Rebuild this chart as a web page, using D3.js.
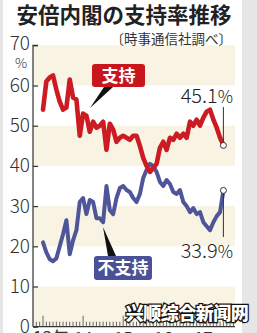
<!DOCTYPE html>
<html>
<head>
<meta charset="utf-8">
<script src="https://cdn.jsdelivr.net/npm/d3@7"></script>
<style>
  body { margin: 0; background: #fff; }
  svg { display: block; }
  text { font-family: "Noto Sans CJK JP", "Noto Sans", sans-serif; }
</style>
</head>
<body>
<svg id="chart" width="257" height="333"></svg>
<script>
// monthly polls, Jan 2013 .. Jun 2017
const support = [54, 61, 62, 62.5, 59, 56, 54, 54.5, 61.5, 57, 56.5, 47.5,
  53, 52.5, 48.5, 51, 49.5, 50, 51, 44, 50.5, 49, 46, 47,
  47.5, 47, 46.5, 47.5, 47.5, 45, 42, 40, 38.5, 39.5, 40.5, 44.5,
  46, 44, 47, 46.5, 48, 47, 48, 47, 51, 50, 51.5, 50,
  52, 53.5, 54, 51.5, 49.5, 47, 45.1];
const against = [21, 18.5, 16.8, 16.3, 17, 20, 23, 26.5, 18, 21.5, 24, 31,
  32, 28, 31.5, 31, 27, 27, 26, 35, 29, 28, 32, 34.5,
  35, 34, 33.5, 32, 31, 33, 37, 39, 40.5, 40, 38.5, 36,
  35, 36.5, 35.5, 33.5, 33, 34, 31, 30, 28.5, 29.5, 28, 28.5,
  26, 25, 24, 26, 27.5, 28.5, 33.9];
const yTicks = [0, 10, 20, 30, 40, 50, 60, 70];
const yearLabels = ["13年", "14", "15", "16", "17"];

const svg = d3.select("#chart");

// page edges
svg.append("rect").attr("x", 0).attr("y", 0).attr("width", 3).attr("height", 333).attr("fill", "#e6e6e6");
svg.append("rect").attr("x", 242).attr("y", 0).attr("width", 15).attr("height", 333).attr("fill", "#e6e6e6");

const x = d3.scaleLinear().domain([0, support.length - 1]).range([43, 223.4]);
const y = d3.scaleLinear().domain([0, 70]).range([326.7, 45.3]);
const left = 33, right = 235;

// bands
for (let i = 0; i < yTicks.length - 1; i += 2) {
  svg.append("rect")
    .attr("x", left).attr("width", right - left)
    .attr("y", y(yTicks[i + 1])).attr("height", y(yTicks[i]) - y(yTicks[i + 1]))
    .attr("fill", "#f8f3e2");
}

// title
svg.append("text").attr("x", 124).attr("y", 23).attr("text-anchor", "middle")
  .attr("font-size", 21.5).attr("font-weight", 700).attr("fill", "#222")
  .text("安倍内閣の支持率推移");
svg.append("text").attr("x", 232).attr("y", 44).attr("text-anchor", "end")
  .attr("font-size", 13.5).attr("fill", "#333")
  .text("〔時事通信社調べ〕");

// y axis
const yAxis = d3.axisRight(y).tickValues(yTicks).tickSize(5).tickFormat("");
const ga = svg.append("g").attr("transform", `translate(${left},0)`).call(yAxis);
ga.select(".domain").attr("d", `M5,${y(70)}H0V${y(0)}`).attr("stroke", "#333").attr("stroke-width", 1.2);
ga.selectAll(".tick line").attr("stroke", "#333").attr("stroke-width", 1.2);

svg.selectAll(".ylab").data(yTicks).join("text")
  .attr("class", "ylab")
  .attr("x", 30).attr("y", d => y(d) + (d === 70 ? 4.5 : 6.5)).attr("text-anchor", "end")
  .attr("font-size", 19).attr("font-weight", 300).attr("fill", "#333")
  .text(d => d);
svg.append("text").attr("x", 21).attr("y", 68).attr("text-anchor", "middle")
  .attr("font-size", 13.5).attr("font-weight", 300).attr("fill", "#333").text("%");

// x axis, monthly ticks
const months = d3.range(-2, support.length + 3);
svg.append("line").attr("x1", left).attr("x2", right).attr("y1", y(0)).attr("y2", y(0))
  .attr("stroke", "#333").attr("stroke-width", 1.2);
svg.selectAll(".xt").data(months.filter(m => x(m) > left + 1 && x(m) < right)).join("line")
  .attr("class", "xt")
  .attr("x1", d => x(d)).attr("x2", d => x(d))
  .attr("y1", y(0)).attr("y2", d => y(0) - (d % 12 === 0 ? 11 : 5))
  .attr("stroke", "#444").attr("stroke-width", 0.8);
svg.selectAll(".xlab").data(yearLabels).join("text")
  .attr("class", "xlab")
  .attr("x", (d, i) => x(i * 12) + (i === 0 ? 8 : 0)).attr("y", 344)
  .attr("text-anchor", "middle").attr("font-size", 17).attr("fill", "#333")
  .text(d => d);

// lines
const line = d3.line().x((d, i) => x(i)).y(d => y(d)).curve(d3.curveLinear);
svg.append("path").datum(against).attr("d", line)
  .attr("fill", "none").attr("stroke", "#4e5598").attr("stroke-width", 4)
  .attr("stroke-linejoin", "round").attr("stroke-linecap", "round");
svg.append("path").datum(support).attr("d", line)
  .attr("fill", "none").attr("stroke", "#cc1b22").attr("stroke-width", 4.6)
  .attr("stroke-linejoin", "round").attr("stroke-linecap", "round");

// end markers and labels
const last = support.length - 1;
const ends = [
  { v: support[last], ly: 107, ty: 103 },
  { v: against[last], ly: 237, ty: 258 }
];
ends.forEach(e => {
  svg.append("line").attr("x1", x(last)).attr("x2", x(last))
    .attr("y1", e.ly).attr("y2", y(e.v)).attr("stroke", "#333").attr("stroke-width", 1);
  svg.append("circle").attr("cx", x(last)).attr("cy", y(e.v)).attr("r", 3)
    .attr("fill", "#fff").attr("stroke", "#333").attr("stroke-width", 1);
  const t = svg.append("text").attr("x", 233).attr("y", e.ty).attr("text-anchor", "end")
    .attr("font-weight", 300).attr("fill", "#222");
  t.append("tspan").attr("font-size", 20).text(d3.format(".1f")(e.v));
  t.append("tspan").attr("font-size", 17).text("%");
});

// series tags
const tags = [
  { label: "支持", color: "#c8161d", bx: 92, by: 64, bw: 53, bh: 23, tip: [[104, 87], [113, 87], [90, 108]] },
  { label: "不支持", color: "#4a5196", bx: 94, by: 256, bw: 58, bh: 24, tip: [[108, 256], [116, 256], [103, 227]] }
];
tags.forEach(t => {
  svg.append("path").attr("d", d3.line()(t.tip) + "Z").attr("fill", "#111");
  svg.append("rect").attr("x", t.bx).attr("y", t.by).attr("width", t.bw).attr("height", t.bh)
    .attr("rx", 3).attr("fill", t.color);
  svg.append("text").attr("x", t.bx + t.bw / 2).attr("y", t.by + t.bh / 2 + 6)
    .attr("text-anchor", "middle").attr("font-size", 17).attr("font-weight", 700)
    .attr("fill", "#fff").text(t.label);
});

// watermark
svg.append("text").attr("x", 187).attr("y", 320).attr("text-anchor", "middle")
  .attr("font-size", 18).attr("font-weight", 900).attr("fill", "#fff")
  .attr("stroke", "#111").attr("stroke-width", 2.5).attr("paint-order", "stroke")
  .attr("letter-spacing", -0.5)
  .text("兴顺综合新闻网");
</script>
</body>
</html>
